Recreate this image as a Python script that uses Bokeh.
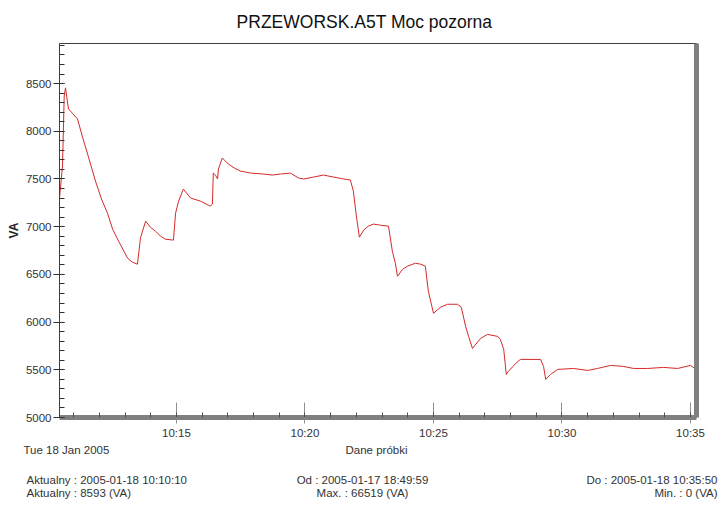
import pandas as pd
from bokeh.plotting import figure
from bokeh.layouts import column
from bokeh.models import (Range1d, FixedTicker, DatetimeTickFormatter, LinearAxis, Label)
from bokeh.embed import file_html
from bokeh.resources import INLINE

DAY = "2005-01-18"
times = ["10:10:27", "10:10:34", "10:10:38", "10:10:41", "10:10:48", "10:10:57", "10:11:09", "10:11:20",
         "10:11:34", "10:11:51", "10:12:05", "10:12:19", "10:12:31", "10:12:45", "10:13:06", "10:13:17",
         "10:13:29", "10:13:36", "10:13:48", "10:13:59", "10:14:11", "10:14:23", "10:14:34", "10:14:53",
         "10:14:58", "10:15:05", "10:15:16", "10:15:33", "10:15:56", "10:16:19", "10:16:24", "10:16:26",
         "10:16:31", "10:16:36", "10:16:38", "10:16:47", "10:17:01", "10:17:15", "10:17:29", "10:17:53",
         "10:18:23", "10:18:44", "10:19:03", "10:19:26", "10:19:45", "10:19:57", "10:20:20", "10:20:43",
         "10:21:07", "10:21:30", "10:21:46", "10:21:53", "10:22:00", "10:22:07", "10:22:17", "10:22:28",
         "10:22:40", "10:22:56", "10:23:15", "10:23:24", "10:23:31", "10:23:36", "10:23:48", "10:23:59",
         "10:24:18", "10:24:30", "10:24:41", "10:24:48", "10:25:00", "10:25:16", "10:25:33", "10:25:56",
         "10:26:05", "10:26:15", "10:26:22", "10:26:31", "10:26:50", "10:27:06", "10:27:30", "10:27:36",
         "10:27:44", "10:27:50", "10:27:55", "10:28:12", "10:28:23", "10:29:10", "10:29:17", "10:29:22",
         "10:29:33", "10:29:50", "10:30:27", "10:31:00", "10:31:23", "10:31:53", "10:32:24", "10:32:47",
         "10:33:20", "10:33:57", "10:34:30", "10:35:00", "10:35:10"]
values = [7300, 7636, 8370, 8455, 8234, 8190, 8130, 7950,
          7740, 7478, 7290, 7142, 6974, 6848, 6670, 6628,
          6607, 6880, 7058, 6995, 6953, 6900, 6869, 6859,
          7142, 7268, 7394, 7300, 7268, 7216, 7237, 7562,
          7541, 7500, 7604, 7720, 7657, 7615, 7583, 7562,
          7552, 7541, 7552, 7562, 7510, 7500, 7520, 7541,
          7520, 7500, 7489, 7373, 7111, 6890, 6964, 7006,
          7027, 7016, 7006, 6743, 6617, 6480, 6554, 6586,
          6617, 6607, 6586, 6323, 6092, 6155, 6187, 6187,
          6155, 5955, 5850, 5724, 5829, 5871, 5850, 5819,
          5714, 5451, 5483, 5567, 5609, 5609, 5535, 5399,
          5451, 5504, 5514, 5493, 5514, 5546, 5535, 5514,
          5514, 5525, 5514, 5546, 5514]

y_major = [5000, 5500, 6000, 6500, 7000, 7500, 8000, 8500]
y_minor_step = 100
x_major = ["10:15", "10:20", "10:25", "10:30", "10:35"]
x_start, x_end = "10:10:27", "10:35:14"
y_start, y_end = 5000, 8920

title = "PRZEWORSK.A5T Moc pozorna"
x_label = "Dane próbki"
date_text = "Tue 18 Jan 2005"
footer = [
    ("Aktualny : 2005-01-18 10:10:10", "Od : 2005-01-17 18:49:59", "Do : 2005-01-18 10:35:50"),
    ("Aktualny : 8593 (VA)", "Max. : 66519 (VA)", "Min. : 0 (VA)"),
]


def ts(t):
    return pd.Timestamp(f"{DAY} {t}")


def ms(t):
    return ts(t).value // 10**6


x = [ts(t) for t in times]

FONT = "Liberation Sans"
TXT = "#333333"
W = 720
H_TOP, H_MAIN, H_FOOT = 36, 405, 61


def strip(f):
    f.xaxis.visible = False
    f.yaxis.visible = False
    f.xgrid.visible = False
    f.ygrid.visible = False
    f.outline_line_color = None
    f.background_fill_color = "white"
    f.border_fill_color = "white"


def note(f, text, px, py, align="left", baseline="middle", size="11.5px", color=TXT, style="normal"):
    f.add_layout(Label(x=px, y=py, text=text, text_align=align, text_baseline=baseline,
                       text_font=FONT, text_font_size=size, text_color=color,
                       text_font_style=style))


# ---- header (title) ----
top0 = 0
f0 = figure(width=W, height=H_TOP, output_backend="svg", toolbar_location=None,
            x_range=Range1d(0, W), y_range=Range1d(top0 + H_TOP, top0), min_border=0,
            frame_align=False)
strip(f0)
note(f0, title, 364, 21, "center", "middle", "17.5px", "#111111")

# ---- main chart ----
p = figure(width=W, height=H_MAIN, output_backend="svg", toolbar_location=None,
           x_axis_type="datetime",
           x_range=Range1d(ts(x_start), ts(x_end)),
           y_range=Range1d(y_start, y_end),
           min_border_left=59, min_border_right=24, min_border_top=7, min_border_bottom=24,
           frame_align=False)

p.xgrid.visible = False
p.ygrid.visible = False
p.outline_line_color = "#404040"
p.outline_line_width = 1
p.background_fill_color = "white"
p.border_fill_color = "white"

p.line(x, values, line_color="#d42a2a", line_width=1)

ya = p.yaxis[0]
ya.ticker = FixedTicker(ticks=y_major,
                        minor_ticks=list(range(y_start, y_end, y_minor_step)))
ya.axis_line_color = "#404040"
ya.major_tick_line_color = "#303030"
ya.minor_tick_line_color = "#303030"
ya.major_tick_out = 6
ya.major_tick_in = 5
ya.minor_tick_out = 0
ya.minor_tick_in = 5
ya.major_label_text_font = FONT
ya.major_label_text_font_size = "11.5px"
ya.major_label_text_color = TXT
ya.major_label_standoff = 2
ya.axis_label = "VA"
ya.axis_label_text_font = FONT
ya.axis_label_text_font_size = "12px"
ya.axis_label_text_font_style = "bold"
ya.axis_label_text_color = "#222222"
ya.axis_label_standoff = 2

xa = p.xaxis[0]
xa.ticker = FixedTicker(ticks=[ms(t + ":00") for t in x_major],
                        minor_ticks=[int(v.value // 10**6) for v in
                                     pd.date_range(ts("10:11:00"), ts("10:35:00"), freq="1min")])
fmt = "%H:%M"
xa.formatter = DatetimeTickFormatter(minsec=fmt, minutes=fmt, hourmin=fmt, hours=fmt, seconds=fmt)
xa.axis_line_color = "#808080"
xa.axis_line_width = 5
xa.major_tick_line_color = "#909090"
xa.minor_tick_line_color = "#505050"
xa.major_tick_out = 6
xa.major_tick_in = 15
xa.minor_tick_out = 0
xa.minor_tick_in = 5
xa.major_label_text_font = FONT
xa.major_label_text_font_size = "11.5px"
xa.major_label_text_color = TXT
xa.major_label_standoff = 3

ra = LinearAxis(ticker=FixedTicker(ticks=[]), major_label_text_font_size="0px",
                axis_line_color="#808080", axis_line_width=5,
                major_tick_line_color=None, minor_tick_line_color=None)
p.add_layout(ra, "right")

# ---- footer ----
top2 = H_TOP + H_MAIN
f2 = figure(width=W, height=H_FOOT, output_backend="svg", toolbar_location=None,
            x_range=Range1d(0, W), y_range=Range1d(top2 + H_FOOT, top2), min_border=0,
            frame_align=False)
strip(f2)
note(f2, date_text, 23, 449)
note(f2, x_label, 376, 449, "center")
note(f2, footer[0][0], 26, 479)
note(f2, footer[1][0], 26, 492)
note(f2, footer[0][1], 362, 479, "center")
note(f2, footer[1][1], 362, 492, "center")
note(f2, footer[0][2], 717, 479, "right")
note(f2, footer[1][2], 717, 492, "right")

layout = column(f0, p, f2, spacing=0)
open("out.html", "w").write(file_html(layout, INLINE))
